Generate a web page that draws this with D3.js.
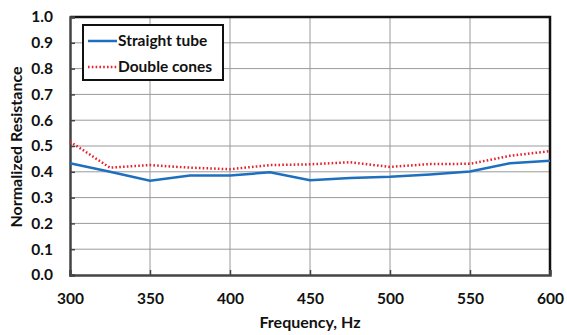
<!DOCTYPE html>
<html>
<head>
<meta charset="utf-8">
<script src="https://cdn.jsdelivr.net/npm/d3@7"></script>
<style>
	body { margin: 0; background: #fff; }
	text { font-family: Lato, 'Open Sans', sans-serif; font-weight: bold; fill: #111; }
</style>
</head>
<body>
<div id="container"></div>
<script>
'use strict';
let freqs = [300, 325, 350, 375, 400, 425, 450, 475, 500, 525, 550, 575, 600];
let straightTube = [0.433, 0.400, 0.365, 0.386, 0.386, 0.398, 0.367, 0.376, 0.381, 0.390, 0.401, 0.433, 0.443];
let doubleCones = [0.517, 0.416, 0.426, 0.416, 0.410, 0.426, 0.429, 0.437, 0.419, 0.430, 0.431, 0.462, 0.480];
let xTicks = [300, 350, 400, 450, 500, 550, 600];
let yTicks = [0, 0.1, 0.2, 0.3, 0.4, 0.5, 0.6, 0.7, 0.8, 0.9, 1.0];
let seriesNames = ['Straight tube', 'Double cones'];

let options = {
	width: 567,
	height: 335,
	left: 70,
	right: 550,
	top: 17,
	bottom: 275,
};

let svg = d3.select('#container')
	.append('svg')
	.attr('width', options.width)
	.attr('height', options.height);

let x = d3.scaleLinear().domain([300, 600]).range([options.left, options.right]);
let y = d3.scaleLinear().domain([0, 1]).range([options.bottom, options.top]);

// grid
svg.append('g').selectAll('line').data(xTicks.slice(1, -1)).enter().append('line')
	.attr('x1', (d) => x(d)).attr('x2', (d) => x(d))
	.attr('y1', options.top).attr('y2', options.bottom)
	.attr('stroke', '#9a9a9a').attr('stroke-width', 1);
svg.append('g').selectAll('line').data(yTicks.slice(1, -1)).enter().append('line')
	.attr('x1', options.left).attr('x2', options.right)
	.attr('y1', (d) => y(d)).attr('y2', (d) => y(d))
	.attr('stroke', '#9a9a9a').attr('stroke-width', 1);

// frame: top/right black
svg.append('path')
	.attr('d', `M${options.left},${options.top}H${options.right}V${options.bottom}`)
	.attr('fill', 'none').attr('stroke', '#111').attr('stroke-width', 2.5);

// axes
let xAxis = svg.append('g')
	.attr('transform', `translate(0,${options.bottom})`)
	.call(d3.axisBottom(x).tickValues(xTicks).tickSize(-5).tickPadding(18).tickFormat(d3.format('d')));
let yAxis = svg.append('g')
	.attr('transform', `translate(${options.left},0)`)
	.call(d3.axisLeft(y).tickValues(yTicks).tickSize(-5).tickPadding(17).tickFormat(d3.format('.1f')));
[xAxis, yAxis].forEach((g) => {
	g.select('.domain').attr('stroke', '#444').attr('stroke-width', 2.5);
	g.selectAll('.tick line').attr('stroke', '#444').attr('stroke-width', 1.5);
	g.selectAll('.tick text').attr('font-size', 15.5).attr('fill', '#111')
		.attr('font-family', 'Lato, sans-serif').attr('font-weight', 'bold');
});

// lines
let line = d3.line().x((d, i) => x(freqs[i])).y((d) => y(d));
svg.append('path').datum(straightTube)
	.attr('d', line).attr('fill', 'none')
	.attr('stroke', '#1f6fbf').attr('stroke-width', 2.5);
svg.append('path').datum(doubleCones)
	.attr('d', line).attr('fill', 'none')
	.attr('stroke', '#e8202a').attr('stroke-width', 2.5)
	.attr('stroke-dasharray', '1.6,2.2');

// legend
let legend = svg.append('g');
legend.append('rect')
	.attr('x', 83).attr('y', 25).attr('width', 140).attr('height', 55)
	.attr('fill', '#fff').attr('stroke', '#111').attr('stroke-width', 2);
let legendRows = legend.selectAll('g.row').data(seriesNames).enter().append('g')
	.attr('transform', (d, i) => `translate(88,${41 + i * 26})`);
legendRows.append('line')
	.attr('x1', 0).attr('x2', 29).attr('y1', 0).attr('y2', 0)
	.attr('stroke', (d, i) => i === 0 ? '#1f6fbf' : '#e8202a')
	.attr('stroke-width', 2.5)
	.attr('stroke-dasharray', (d, i) => i === 0 ? null : '1.6,2.2');
legendRows.append('text')
	.attr('x', 30).attr('y', 0).attr('dy', '0.35em')
	.attr('font-size', 15.5)
	.text((d) => d);

// axis titles
svg.append('text')
	.attr('x', 310).attr('y', 328)
	.attr('text-anchor', 'middle').attr('font-size', 16)
	.text('Frequency, Hz');
svg.append('text')
	.attr('transform', `translate(22,147) rotate(-90)`)
	.attr('text-anchor', 'middle').attr('font-size', 16)
	.text('Normalized Resistance');
</script>
</body>
</html>
